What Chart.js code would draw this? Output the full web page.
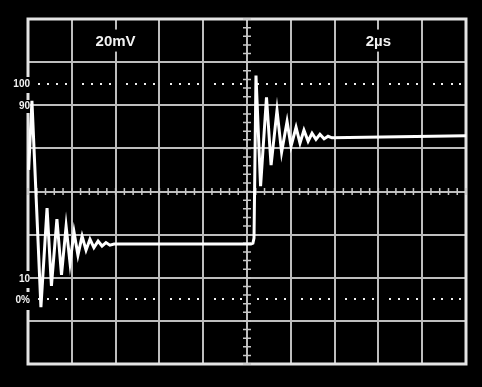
<!DOCTYPE html>
<html>
<head>
<meta charset="utf-8">
<script src="https://cdn.jsdelivr.net/npm/chart.js@4.4.1/dist/chart.umd.min.js"></script>
<style>
  html, body { margin: 0; padding: 0; background: #000; }
  canvas { display: block; }
</style>
</head>
<body>
<canvas id="scope" width="482" height="387"></canvas>
<script>
// trace: time in µs (2µs/div), level in % of the 0%..100% marks
const timeUs = [0.03, 0.18, 0.59, 0.87, 1.07, 1.32, 1.53, 1.74, 1.92, 2.10, 2.28, 2.47, 2.65, 2.83,
    3.01, 3.20, 3.38, 3.56, 3.74, 3.93, 10.18, 10.27, 10.32, 10.41, 10.62, 10.89, 11.10, 11.37,
    11.58, 11.83, 12.01, 12.24, 12.42, 12.60, 12.79, 12.97, 13.15, 13.33, 13.52, 13.70, 13.88, 20.0];
const levelPct = [60, 92, -3.6, 42.3, 6.2, 37.2, 11.3, 33.9, 16.8, 31.2, 20.5, 29.3, 22.8, 27.9,
    24.0, 27.0, 24.7, 26.3, 25.1, 25.6, 25.6, 26.0, 28.4, 103.8, 52.5, 93.7, 62.2, 87.6,
    68.2, 82.5, 71.0, 79.8, 72.4, 78.4, 73.3, 77.0, 74.2, 76.5, 74.4, 75.6, 74.9, 75.8];

const xGrid = [0, 2, 4, 6, 8, 10, 12, 14, 16, 18, 20];
const yGrid = [-30, -10, 10, 30, 50, 70, 90, 110, 130];
const sideLabels = ['100', '90', '10', '0%'];
const sideValues = [100, 90, 10, 0];
const voltsLabel = '20mV';
const timeLabel = '2µs';

const points = timeUs.map((t, i) => ({ x: t, y: levelPct[i] }));

const graticule = {
    id: 'graticule',
    beforeDatasetsDraw(chart) {
        const { ctx, chartArea: a, scales: { x, y } } = chart;
        ctx.save();
        // outer frame
        ctx.strokeStyle = '#e4e4e4';
        ctx.lineWidth = 3;
        ctx.strokeRect(a.left, a.top, a.right - a.left, a.bottom - a.top);

        // minor ticks on the centre cross
        ctx.strokeStyle = '#c8c8c8';
        ctx.lineWidth = 1.5;
        const cx = x.getPixelForValue(10), cy = y.getPixelForValue(50);
        ctx.beginPath();
        for (let v = -30; v <= 130; v += 4) {
            const py = y.getPixelForValue(v);
            ctx.moveTo(cx - 4, py); ctx.lineTo(cx + 4, py);
        }
        for (let t = 0; t <= 20; t += 0.4) {
            const px = x.getPixelForValue(t);
            ctx.moveTo(px, cy - 3.5); ctx.lineTo(px, cy + 3.5);
        }
        ctx.stroke();

        // dotted 0% and 100% lines
        ctx.fillStyle = '#f0f0f0';
        [0, 100].forEach(v => {
            const py = y.getPixelForValue(v);
            for (let d = 0; d < 20; d += 2) {
                [0.52, 0.92, 1.34, 1.74].forEach(o => {
                    const px = x.getPixelForValue(d + o);
                    ctx.fillRect(Math.round(px) - 1, Math.round(py) - 1, 2, 2);
                });
            }
        });
        ctx.restore();
    },
    afterDraw(chart) {
        const { ctx, scales: { x, y } } = chart;
        ctx.save();
        ctx.textBaseline = 'middle';

        // percent marks on the left edge
        ctx.font = 'bold 10px "Liberation Sans", Arial, sans-serif';
        ctx.textAlign = 'right';
        const boxes = [[77, 93], [100, 113], [271, 288], [292, 310]];
        sideLabels.forEach((txt, i) => {
            ctx.fillStyle = '#000';
            ctx.fillRect(10, boxes[i][0], 20, boxes[i][1] - boxes[i][0]);
            ctx.fillStyle = '#f2f2f2';
            ctx.fillText(txt, 30, y.getPixelForValue(sideValues[i]) + 1);
        });

        // scale settings
        ctx.font = 'bold 15px "Liberation Sans", Arial, sans-serif';
        ctx.textAlign = 'center';
        [[voltsLabel, 4], [timeLabel, 16]].forEach(([txt, t]) => {
            const px = x.getPixelForValue(t);
            const py = y.getPixelForValue(120);
            const w = ctx.measureText(txt).width;
            ctx.fillStyle = '#000';
            ctx.fillRect(px - w / 2 - 4, py - 11, w + 8, 22);
            ctx.fillStyle = '#f2f2f2';
            ctx.fillText(txt, px, py + 1);
        });
        ctx.restore();
    }
};

new Chart(document.getElementById('scope'), {
    type: 'line',
    data: {
        datasets: [{
            data: points,
            borderColor: '#ffffff',
            borderWidth: 3,
            pointRadius: 0,
            tension: 0,
            clip: 4,
        }]
    },
    options: {
        responsive: false,
        animation: false,
        devicePixelRatio: 1,
        layout: { padding: { left: 28, top: 19, right: 16, bottom: 23 } },
        plugins: { legend: { display: false }, tooltip: { enabled: false } },
        scales: {
            x: {
                type: 'linear', min: 0, max: 20,
                afterBuildTicks: s => { s.ticks = xGrid.map(v => ({ value: v })); },
                ticks: { display: false },
                grid: { color: '#bdbdbd', lineWidth: 2, drawTicks: false },
                border: { display: false },
            },
            y: {
                min: -30, max: 130,
                afterBuildTicks: s => { s.ticks = yGrid.map(v => ({ value: v })); },
                ticks: { display: false },
                grid: { color: '#bdbdbd', lineWidth: 2, drawTicks: false },
                border: { display: false },
            }
        }
    },
    plugins: [graticule]
});
</script>
</body>
</html>
